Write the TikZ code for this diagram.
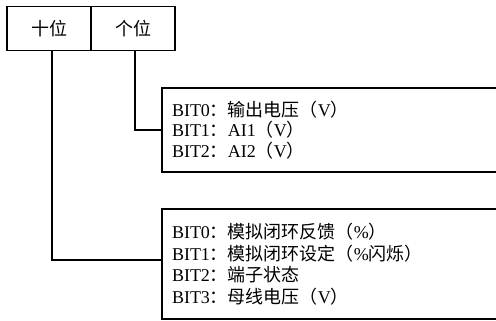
\documentclass[tikz,border=0pt]{standalone}
\usepackage{fontspec}
\setmainfont{Liberation Serif}
\newfontfamily\cjk{Noto Sans CJK SC}
\newcommand{\zh}[1]{{\cjk #1}}
\newcommand{\bitlines}[1]{\fontsize{18}{#1}\selectfont\lineskiplimit=-20pt\relax}
\usetikzlibrary{positioning}

\begin{document}
\begin{tikzpicture}[x=1pt,y=-1pt,
  cell/.style={draw,line width=1.2pt,outer sep=0pt,inner sep=0pt,minimum width=84pt,minimum height=44pt,font=\fontsize{18}{22}\selectfont},
  bitbox/.style={draw,line width=1.2pt,outer sep=0pt,anchor=north west,align=left,text width=330pt,inner xsep=10pt,inner ysep=0pt},
  wire/.style={line width=1.2pt}]
\useasboundingbox (0,0) rectangle (496,321);
\clip (0,0) rectangle (496,321);
\node[cell] (ten) at (49,28.5) {\zh{十位}};
\node[cell,right=0pt of ten] (one) {\zh{个位}};
\node[bitbox,minimum height=84pt,font=\bitlines{20.5}] (lowbits) at (162,88) {BIT0\zh{：输出电压（}V\zh{）}\\
BIT1\zh{：}AI1\zh{（}V\zh{）}\\
BIT2\zh{：}AI2\zh{（}V\zh{）}};
\node[bitbox,minimum height=110pt,font=\bitlines{21.5}] (highbits) at (162,209) {BIT0\zh{：模拟闭环反馈（}\%\zh{）}\\
BIT1\zh{：模拟闭环设定（}\%\zh{闪烁）}\\
BIT2\zh{：端子状态}\\
BIT3\zh{：母线电压（}V\zh{）}};
\draw[wire] ([xshift=3pt]ten.south) |- ([yshift=4pt]highbits.west);
\draw[wire] ([xshift=2pt]one.south) |- (lowbits.west);
\end{tikzpicture}
\end{document}
